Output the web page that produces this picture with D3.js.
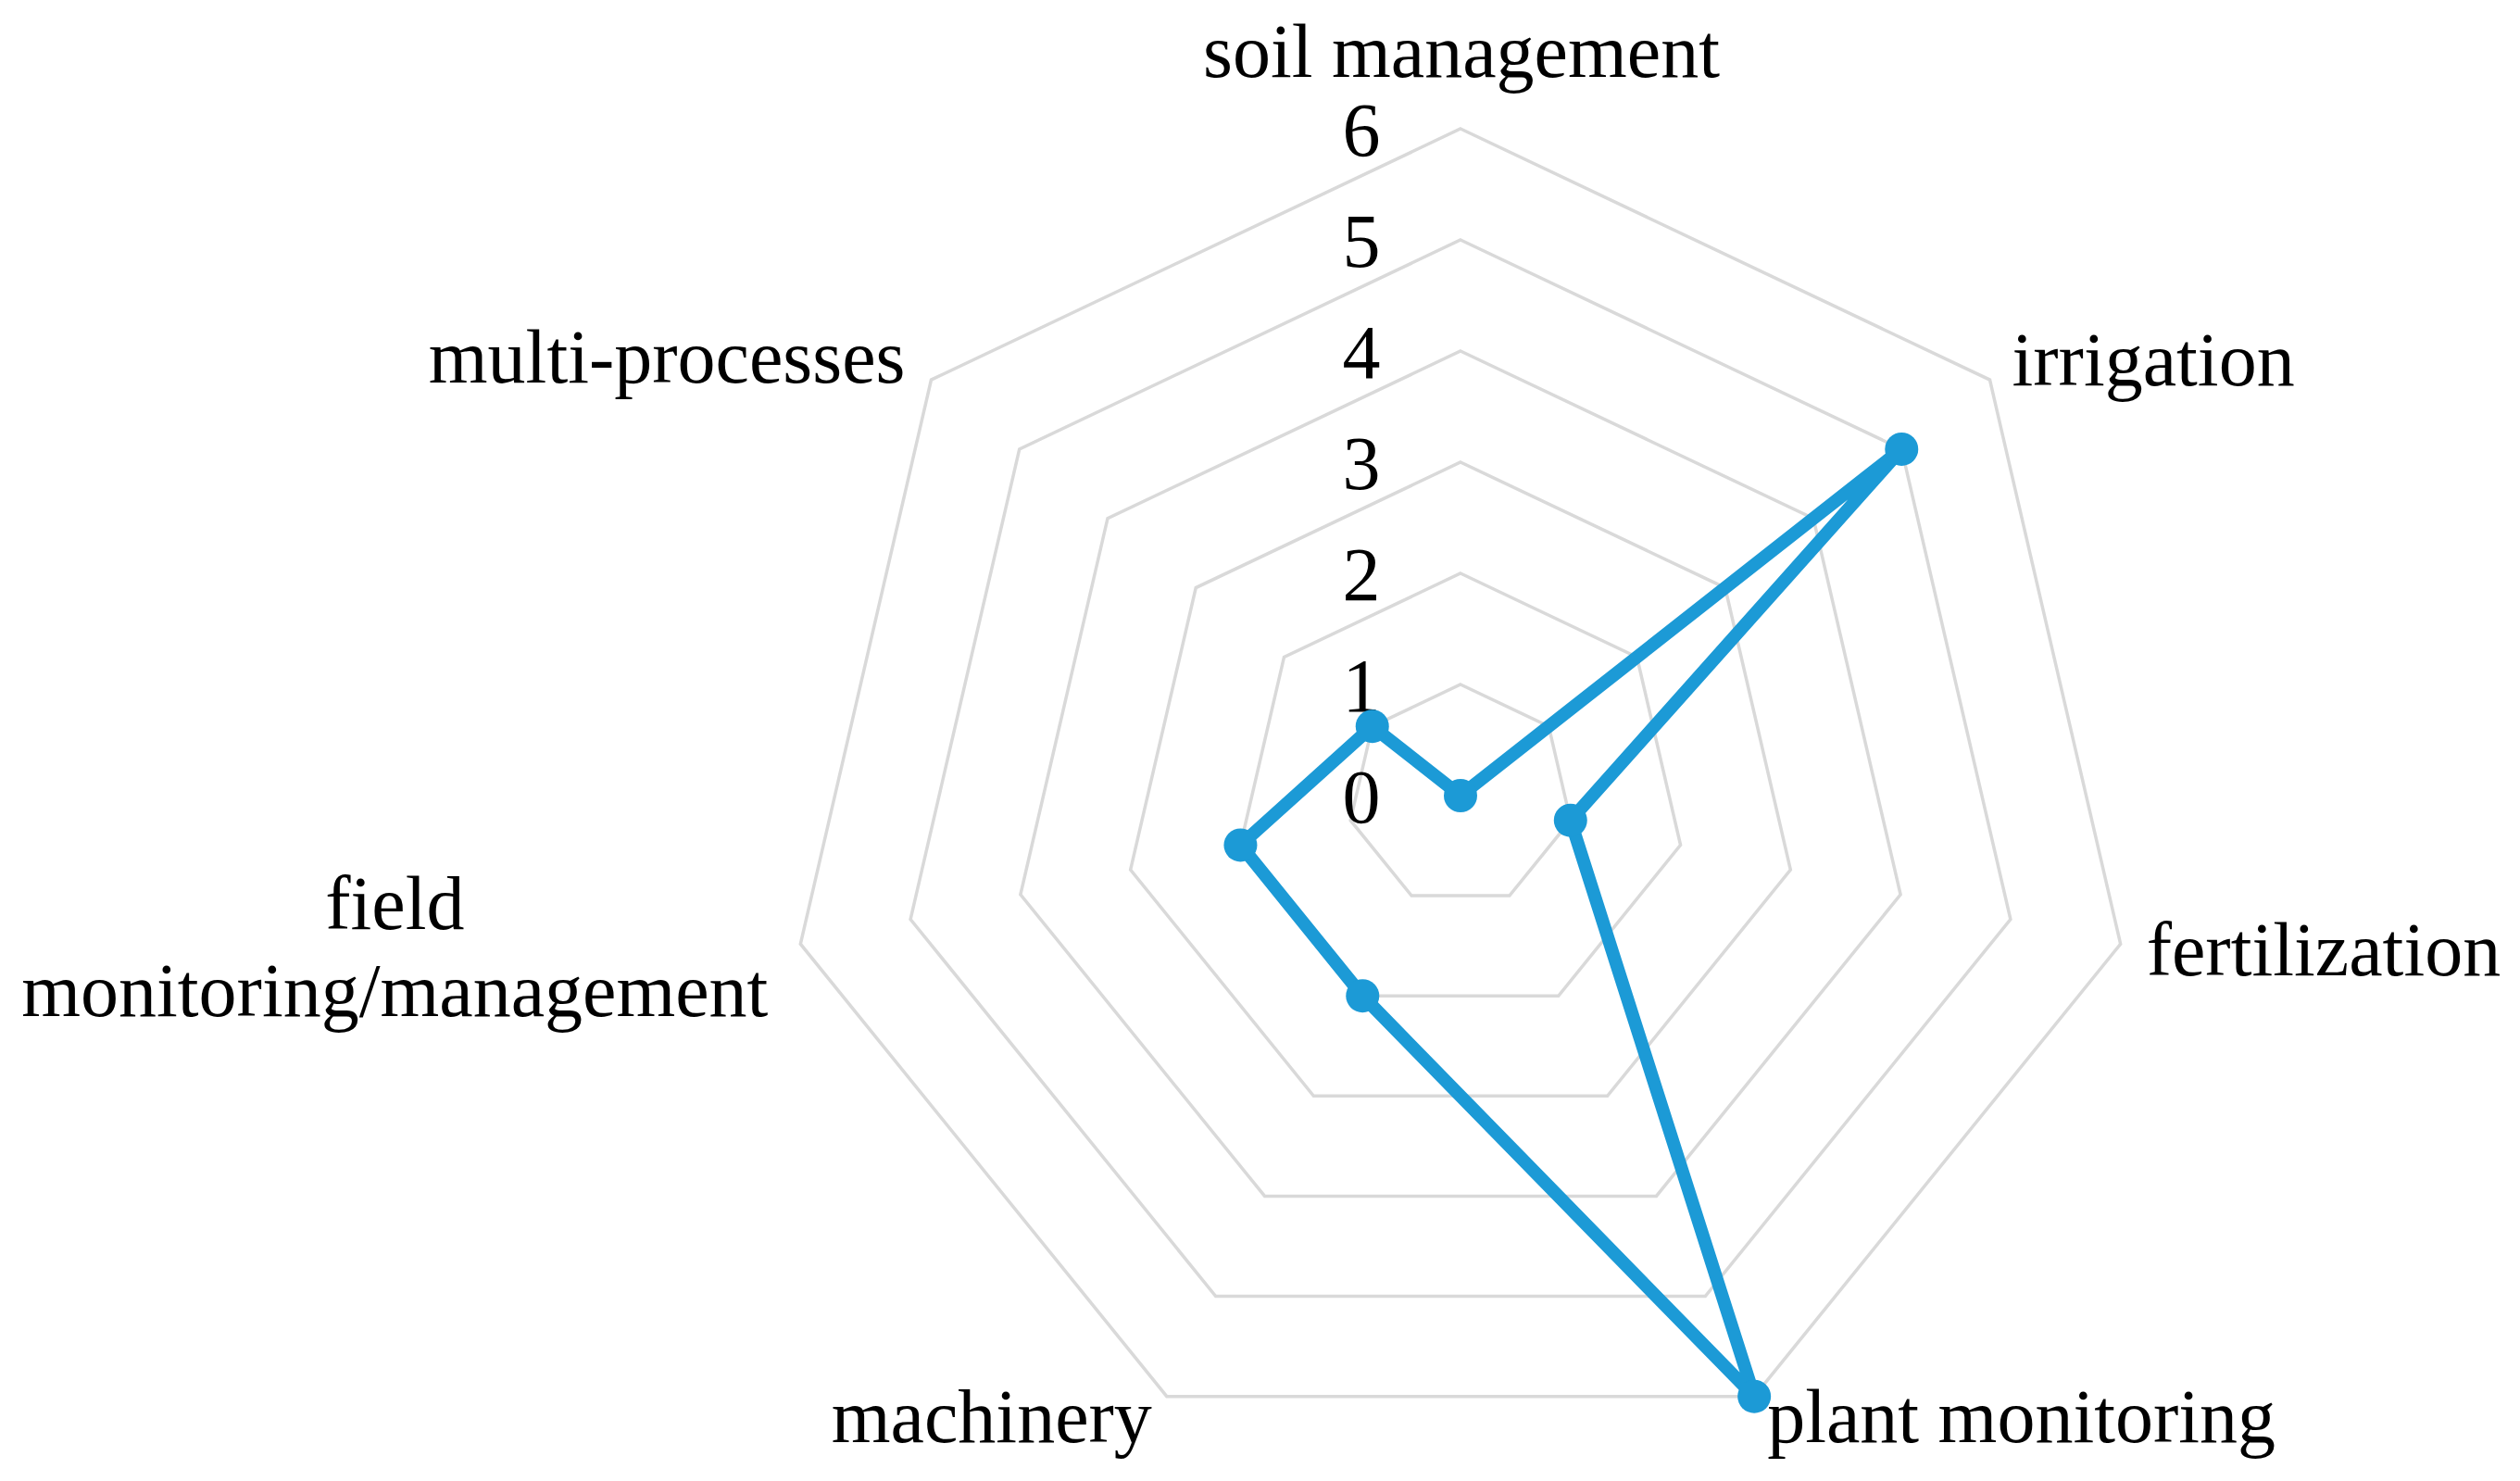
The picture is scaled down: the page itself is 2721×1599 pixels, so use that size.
<!DOCTYPE html>
<html>
<head>
<meta charset="utf-8">
<script src="https://cdn.jsdelivr.net/npm/d3@7"></script>
<style>
  html, body { margin: 0; padding: 0; background: #ffffff; }
  svg { display: block; }
</style>
</head>
<body>
<svg id="chart" width="2721" height="1599"></svg>
<script>
// ---- data ----
const categories = ["soil management", "irrigation", "fertilization", "plant monitoring",
                    "machinery", "field monitoring/management", "multi-processes"];
const values = [0, 5, 1, 6, 2, 2, 1];
const tickValues = [0, 1, 2, 3, 4, 5, 6];

// ---- layout ----
const cx = 1577, cy = 859;
const RX = 731, RY = 720;
const fontFamily = "'Liberation Serif', 'Times New Roman', serif";
const fontSize = 82;
const lineColor = "#1c9ad6";
const gridColor = "#d9d9d9";

const svg = d3.select("#chart");
const g = svg.append("g").attr("transform", `translate(${cx},${cy})`);

const rx = d3.scaleLinear().domain([0, 6]).range([0, RX]);
const ry = d3.scaleLinear().domain([0, 6]).range([0, RY]);
const angle = d3.scaleLinear().domain([0, categories.length]).range([0, 2 * Math.PI]);

const px = (i, v) => rx(v) * Math.sin(angle(i));
const py = (i, v) => -ry(v) * Math.cos(angle(i));

// grid heptagons
const gridLevels = tickValues.filter(t => t > 0);
g.selectAll("path.grid")
  .data(gridLevels)
  .enter().append("path")
  .attr("class", "grid")
  .attr("d", lv => {
    const pts = categories.map((c, i) => [px(i, lv), py(i, lv)]);
    return d3.line()(pts) + "Z";
  })
  .attr("fill", "none")
  .attr("stroke", gridColor)
  .attr("stroke-width", 3.5);

// tick labels
g.selectAll("text.tick")
  .data(tickValues)
  .enter().append("text")
  .attr("class", "tick")
  .attr("x", -107)
  .attr("y", d => -ry(d))
  .attr("dy", "0.35em")
  .attr("text-anchor", "middle")
  .attr("font-family", fontFamily)
  .attr("font-size", fontSize)
  .attr("fill", "#000")
  .text(d => d);

// series line
const seriesPts = values.map((v, i) => [px(i, v), py(i, v)]);
g.append("path")
  .attr("d", d3.line()(seriesPts) + "Z")
  .attr("fill", "none")
  .attr("stroke", lineColor)
  .attr("stroke-width", 14)
  .attr("stroke-linejoin", "round");

g.selectAll("circle.pt")
  .data(values)
  .enter().append("circle")
  .attr("class", "pt")
  .attr("cx", (v, i) => px(i, v))
  .attr("cy", (v, i) => py(i, v))
  .attr("r", 18)
  .attr("fill", lineColor);

// category labels (placement relative to outer vertex)
const labelLayout = [
  { dx: 1,   dy: -56, anchor: "middle" },
  { dx: 24,  dy: 6,   anchor: "start" },
  { dx: 28,  dy: 34,  anchor: "start" },
  { dx: 14,  dy: 49,  anchor: "start" },
  { dx: -16, dy: 49,  anchor: "end" },
  { dx: -438,dy: -16, anchor: "middle", lineGap: 94 },
  { dx: -28, dy: 3,   anchor: "end" }
];

categories.forEach((c, i) => {
  const L = labelLayout[i];
  const x0 = px(i, 6) + L.dx;
  const y0 = py(i, 6) + L.dy;
  const t = g.append("text")
    .attr("x", x0).attr("y", y0)
    .attr("text-anchor", L.anchor)
    .attr("font-family", fontFamily)
    .attr("font-size", fontSize)
    .attr("fill", "#000");
  if (c === "field monitoring/management") {
    t.append("tspan").attr("x", x0).attr("y", y0).text("field");
    t.append("tspan").attr("x", x0).attr("y", y0 + L.lineGap).text("monitoring/management");
  } else {
    t.text(c);
  }
});
</script>
</body>
</html>
